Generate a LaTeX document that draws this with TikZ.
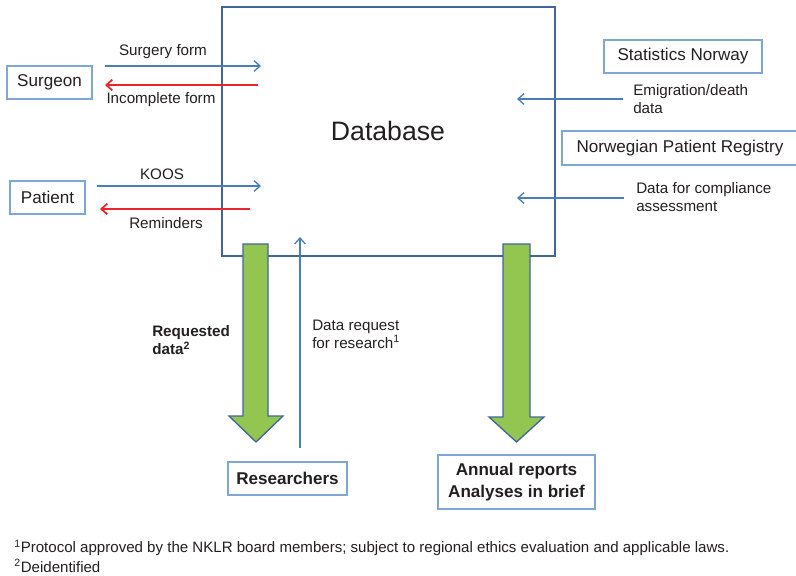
\documentclass[tikz,border=0pt]{standalone}
\usepackage{fontspec}
\setmainfont{Liberation Sans}
\definecolor{boxblue}{HTML}{7FA7D6}
\definecolor{lineblue}{HTML}{4A7EBB}
\definecolor{dbblue}{HTML}{41679A}
\definecolor{redline}{HTML}{E8262A}
\definecolor{greenfill}{HTML}{92C650}
\definecolor{txt}{HTML}{231F20}
\tikzset{
  ent/.style={draw=boxblue, line width=0.8pt, inner sep=0pt, text=txt, font=\fontsize{12.8}{15}\selectfont},
  lbl/.style={text=txt, font=\fontsize{11.4}{13.5}\selectfont, inner sep=0pt},
  bluearr/.style={draw=lineblue, line width=1pt, -{Straight Barb[length=4.5pt,width=8pt]}},
  redarr/.style={draw=redline, line width=1.3pt, -{Straight Barb[length=4.5pt,width=8pt]}},
  bigarr/.style={draw=dbblue, line width=1pt, fill=greenfill, line join=miter}
}
\usetikzlibrary{arrows.meta}
\begin{document}
\begin{tikzpicture}[x=0.75pt,y=-0.75pt]
\useasboundingbox (0,0) rectangle (796,575);
% database
\node[draw=dbblue, line width=1.2pt, minimum width=333*0.75pt, minimum height=249*0.75pt, inner sep=0pt] (db) at (388.5,131.5) {};
\node[text=txt, font=\fontsize{20}{23}\selectfont] (dbt) at (388,131) {Database};
% left entities
\node[ent, minimum width=85*0.75pt, minimum height=33*0.75pt] (surgeon) at (49.5,82.5) {Surgeon};
\node[ent, minimum width=75*0.75pt, minimum height=33*0.75pt] (patient) at (47.5,197.5) {Patient};
% right entities
\node[ent, minimum width=158*0.75pt, minimum height=33*0.75pt] (stat) at (683,56.5) {Statistics Norway};
\node[ent, minimum width=236*0.75pt, minimum height=34*0.75pt] (npr) at (680,148) {Norwegian Patient Registry};
% bottom entities
\node[ent, font=\fontsize{12.8}{15}\selectfont\bfseries, minimum width=119*0.75pt, minimum height=33*0.75pt] (res) at (287.5,478.5) {Researchers};
\node[ent, font=\fontsize{12.8}{16.5}\selectfont\bfseries, align=center, minimum width=157*0.75pt, minimum height=54*0.75pt] (ann) at (516.5,482) {Annual reports\\Analyses in brief};
% coordinates
\coordinate (sfA) at (105,66); \coordinate (sfB) at (261,66);
\coordinate (ifA) at (258,85); \coordinate (ifB) at (105,85);
\coordinate (koA) at (97,186); \coordinate (koB) at (261,186);
\coordinate (reA) at (250,209); \coordinate (reB) at (100,209);
\coordinate (emA) at (623,99); \coordinate (emB) at (517,99);
\coordinate (coA) at (624,198); \coordinate (coB) at (517,198);
\coordinate (drA) at (300,448); \coordinate (drB) at (300,237);
% arrows
\draw[bluearr] (sfA) -- (sfB);
\draw[redarr] (ifA) -- (ifB);
\draw[bluearr] (koA) -- (koB);
\draw[redarr] (reA) -- (reB);
\draw[bluearr] (emA) -- (emB);
\draw[bluearr] (coA) -- (coB);
\draw[bluearr] (drA) -- (drB);
% labels
\node[lbl] (l1) at (163,52) {Surgery form};
\node[lbl] (l2) at (161,100) {Incomplete form};
\node[lbl] (l3) at (162,174) {KOOS};
\node[lbl] (l4) at (166,223) {Reminders};
\node[lbl, anchor=west, align=left] (l5) at (633,99) {Emigration/death\\data};
\node[lbl, anchor=west, align=left] (l6) at (636,197) {Data for compliance\\assessment};
\node[lbl, anchor=west, align=left, font=\fontsize{11.4}{13.5}\selectfont\bfseries] (l7) at (152,340) {Requested\\data\textsuperscript{2}};
\node[lbl, anchor=west, align=left] (l8) at (312,334) {Data request\\for research\textsuperscript{1}};
% green arrows
\draw[bigarr] (243,244) -- (268,244) -- (268,416) -- (283,416) -- (256,442) -- (229,416) -- (243,416) -- cycle;
\draw[bigarr] (503,244) -- (530,244) -- (530,417) -- (544,417) -- (516.5,442) -- (489,417) -- (503,417) -- cycle;
% footnotes
\node[lbl, anchor=west, font=\fontsize{11.3}{13.5}\selectfont] (f1) at (14,548) {\textsuperscript{1}Protocol approved by the NKLR board members; subject to regional ethics evaluation and applicable laws.};
\node[lbl, anchor=west, font=\fontsize{11.3}{13.5}\selectfont] (f2) at (14,566) {\textsuperscript{2}Deidentified};
\end{tikzpicture}
\end{document}
